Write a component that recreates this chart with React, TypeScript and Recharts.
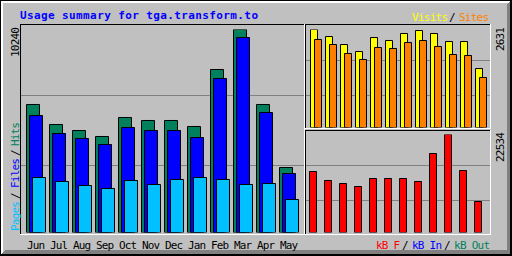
import React from 'react';
import { BarChart, Bar, XAxis, YAxis } from 'recharts';

// ---- data ----
const months = ['Jun', 'Jul', 'Aug', 'Sep', 'Oct', 'Nov', 'Dec', 'Jan', 'Feb', 'Mar', 'Apr', 'May'];
const hits = [6457, 5448, 5145, 4843, 5801, 5650, 5650, 5347, 8222, 10240, 6457, 3279];
const files = [5902, 4994, 4742, 4439, 5297, 5145, 5145, 4792, 7768, 9836, 6053, 2976];
const pages = [2774, 2573, 2371, 2220, 2623, 2421, 2674, 2774, 2674, 2421, 2472, 1665];
const visits = [2631, 2443, 2228, 2040, 2416, 2336, 2524, 2604, 2524, 2309, 2309, 1584];
const sites = [2363, 2228, 1987, 1826, 2148, 2121, 2282, 2336, 2175, 1960, 1933, 1342];
const kbytes = [14026, 11957, 11267, 10577, 12417, 12417, 12417, 11727, 18165, 22534, 14256, 7128];

const maxHits = Math.max(...hits);
const maxVisits = Math.max(...visits);
const maxKB = Math.max(...kbytes);

const mainData = months.map((month, i) => ({ month, hits: hits[i], files: files[i], pages: pages[i] }));
const visitData = months.map((month, i) => ({ month, visits: visits[i], sites: sites[i] }));
const kbData = months.map((month, i) => ({ month, kbytes: kbytes[i] }));

const FONT = '"DejaVu Sans Mono", "Liberation Mono", monospace';
const GREY = '#C0C0C0';
const DKGREY = '#808080';
const HIT = '#00805C';
const FILE = '#0000FF';
const PAGE = '#00C0FF';
const VISIT = '#FFFF00';
const SITE = '#FF8000';
const KBF = '#FF0000';
const KBIN = '#0000FF';
const KBOUT = '#00805C';

const layer: React.CSSProperties = { position: 'absolute', left: 0, top: 0 };

function Txt(props: { x: number; y: number; children: string; fill?: string; len?: number; anchor?: string; bold?: boolean; size?: number }) {
  const { x, y, children, fill = '#000', len, anchor = 'start', bold = false, size = 11 } = props;
  return (
    <text x={x} y={y} fill={fill} fontFamily={FONT} fontSize={size} fontWeight={bold ? 'bold' : 'normal'}
      textAnchor={anchor as any} textLength={len} lengthAdjust="spacing">{children}</text>
  );
}

function UpTxt(props: { x: number; y: number; children: string; fill?: string; len?: number; anchor?: string }) {
  const { x, y, children, fill = '#000', len, anchor = 'start' } = props;
  return (
    <text transform={`translate(${x} ${y}) rotate(-90)`} fill={fill} fontFamily={FONT} fontSize={11}
      textAnchor={anchor as any} textLength={len} lengthAdjust="spacing">{children}</text>
  );
}

function Background() {
  return (
    <svg width={512} height={256} style={layer}>
      <g shapeRendering="crispEdges">
        <rect x={0} y={0} width={512} height={256} fill={GREY} />
        <rect x={1} y={1} width={509} height={2} fill="#fff" />
        <rect x={1} y={1} width={2} height={253} fill="#fff" />
        <polygon points="510,1 510,254 1,254 5,250 507,250 507,4" fill={DKGREY} />
        <rect x={0} y={0} width={512} height={1} fill="#000" />
        <rect x={0} y={0} width={1} height={256} fill="#000" />
        <rect x={0} y={254} width={512} height={2} fill="#000" />
        <rect x={510} y={0} width={2} height={256} fill="#000" />

        {/* main panel */}
        <rect x={21} y={95} width={283} height={1} fill={DKGREY} />
        <rect x={21} y={165} width={283} height={1} fill={DKGREY} />
        <rect x={20} y={24} width={285} height={1} fill="#000" />
        <rect x={20} y={24} width={1} height={211} fill="#000" />
        <rect x={20} y={234} width={285} height={1} fill="#fff" />
        <rect x={304} y={24} width={1} height={211} fill="#fff" />

        {/* top right panel */}
        <rect x={306} y={60} width={184} height={1} fill={DKGREY} />
        <rect x={306} y={95} width={184} height={1} fill={DKGREY} />
        <rect x={305} y={24} width={186} height={1} fill="#000" />
        <rect x={305} y={24} width={1} height={105} fill="#000" />
        <rect x={305} y={128} width={186} height={1} fill="#fff" />
        <rect x={490} y={24} width={1} height={105} fill="#fff" />

        {/* bottom right panel */}
        <rect x={306} y={165} width={184} height={1} fill={DKGREY} />
        <rect x={306} y={200} width={184} height={1} fill={DKGREY} />
        <rect x={305} y={130} width={186} height={1} fill="#000" />
        <rect x={305} y={130} width={1} height={105} fill="#000" />
        <rect x={305} y={234} width={186} height={1} fill="#fff" />
        <rect x={490} y={130} width={1} height={105} fill="#fff" />
      </g>

      <Txt x={20} y={19} fill="#0000FF" len={238} bold>Usage summary for tga.transform.to</Txt>

      <Txt x={412} y={21} fill={VISIT} len={36}>Visits</Txt>
      <Txt x={449} y={21} len={6}>/</Txt>
      <Txt x={459} y={21} fill={SITE} len={30}>Sites</Txt>

      <Txt x={376} y={249} fill={KBF} len={24}>kB F</Txt>
      <Txt x={402} y={249} len={6}>/</Txt>
      <Txt x={412} y={249} fill={KBIN} len={30}>kB In</Txt>
      <Txt x={444} y={249} len={6}>/</Txt>
      <Txt x={454} y={249} fill={KBOUT} len={36}>kB Out</Txt>

      <UpTxt x={19} y={231} fill={PAGE} len={30}>Pages</UpTxt>
      <UpTxt x={19} y={199} len={6}>/</UpTxt>
      <UpTxt x={19} y={188} fill={FILE} len={30}>Files</UpTxt>
      <UpTxt x={19} y={156} len={6}>/</UpTxt>
      <UpTxt x={19} y={146} fill={HIT} len={24}>Hits</UpTxt>
    </svg>
  );
}

const monthTick = (p: any) => (
  <text x={p.x} y={p.y + 16.5} fill="#000" fontFamily={FONT} fontSize={11} textAnchor="middle"
    textLength={18} lengthAdjust="spacing">{p.payload.value}</text>
);

const upTick = (labelX: number) => (p: any) => {
  const s = String(p.payload.value);
  return (
    <UpTxt x={labelX} y={p.y - 2.5} anchor="end" len={s.length * 6}>{s}</UpTxt>
  );
};

export default function App() {
  return (
    <div style={{ position: 'absolute', left: 0, top: 0, width: 512, height: 256 }}>
      <Background />

      <div style={layer}>
        <BarChart width={512} height={256} data={mainData} barSize={13} barGap={-10}
          margin={{ top: 29.5, right: 211.5, bottom: 0, left: 0 }}>
          <XAxis dataKey="month" height={23.5} axisLine={false} tickLine={false} tickSize={0} tickMargin={0}
            interval={0} tick={monthTick} />
          <YAxis width={24.5} domain={[0, maxHits]} ticks={[maxHits]} allowDataOverflow interval={0}
            axisLine={false} tickLine={false} tickSize={0} tickMargin={0} tick={upTick(19)} />
          <Bar dataKey="hits" fill={HIT} stroke="#000" strokeWidth={1} isAnimationActive={false} />
          <Bar dataKey="files" fill={FILE} stroke="#000" strokeWidth={1} isAnimationActive={false} />
          <Bar dataKey="pages" fill={PAGE} stroke="#000" strokeWidth={1} isAnimationActive={false} />
        </BarChart>
      </div>

      <div style={layer}>
        <BarChart width={512} height={256} data={visitData} barSize={7} barGap={-3}
          margin={{ top: 29.5, right: 0, bottom: 128.5, left: 308.5 }}>
          <XAxis dataKey="month" hide />
          <YAxis orientation="right" width={23.5} domain={[0, maxVisits]} ticks={[maxVisits]} allowDataOverflow
            interval={0} axisLine={false} tickLine={false} tickSize={0} tickMargin={0} tick={upTick(504)} />
          <Bar dataKey="visits" fill={VISIT} stroke="#000" strokeWidth={1} isAnimationActive={false} />
          <Bar dataKey="sites" fill={SITE} stroke="#000" strokeWidth={1} isAnimationActive={false} />
        </BarChart>
      </div>

      <div style={layer}>
        <BarChart width={512} height={256} data={kbData} barSize={7}
          margin={{ top: 134.5, right: 0, bottom: 23.5, left: 305.5 }}>
          <XAxis dataKey="month" hide />
          <YAxis orientation="right" width={26.5} domain={[0, maxKB]} ticks={[maxKB]} allowDataOverflow
            interval={0} axisLine={false} tickLine={false} tickSize={0} tickMargin={0} tick={upTick(504)} />
          <Bar dataKey="kbytes" fill={KBF} stroke="#000" strokeWidth={1} isAnimationActive={false} />
        </BarChart>
      </div>
    </div>
  );
}
